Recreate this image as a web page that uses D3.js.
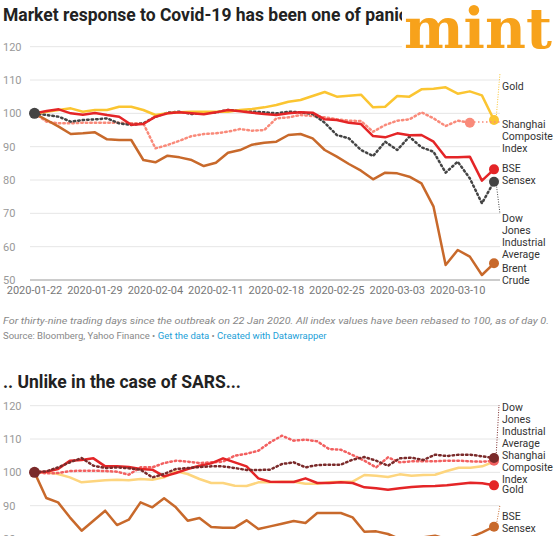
<!DOCTYPE html>
<html><head><meta charset="utf-8">
<script src="https://cdn.jsdelivr.net/npm/d3@7"></script>
<style>body{margin:0;background:#fff;font-family:Roboto,sans-serif}</style></head>
<body><svg id="c" width="556" height="536"></svg>
<script>
const tickLabels1=["2020-01-22","2020-01-29","2020-02-04","2020-02-11","2020-02-18","2020-02-25","2020-03-03","2020-03-10"];
const gold1=[100,100.5,101,101.5,100.5,101,101,102,102,101,99.5,100,100.3,100.5,100.5,100.5,100.5,101,101.3,101.8,102.5,103.5,104,105.2,106.4,105,105.3,105.6,101.8,102,105.2,105,107.2,107.4,107.8,105.9,106.6,105.4,98];
const bse1=[100,100.7,101.2,100,99.6,100.1,99.5,99,96.6,96.8,99,100,100.3,100,99.7,100.3,101,100.6,100.2,99.8,99.5,100,100.3,100.2,98.2,98,97.2,96.8,93.2,92.8,94,93.4,93.5,91.5,86.8,86.8,87,79.8,83.2];
const dow1=[100,99.5,99,97.5,98,98.2,98.5,97,96.5,97,99,100.2,100.5,99.8,100.2,100.3,101,100.8,100.5,100.3,100,100.5,100.3,99.8,97.2,93.5,92.5,89,87.2,91.5,89,93,89.8,88.5,82.2,85.5,80.5,73,79.5];
const shanghai1=[100,97.5,97,97,97.2,97.2,97.2,97.2,97,97,89.5,90.5,91.8,93.2,93.8,94,94.5,95.3,94.8,95,98.5,98.8,99.5,99.2,98.8,98.2,97.8,97.7,94.5,96.5,97.8,98.2,100.3,98.5,96.2,97.8,97.2];
const brent1=[100,98,96,93.8,94,94.3,92.2,92,92,86,85.3,87.3,86.8,86,84.2,85.2,88.2,89,90.6,91.2,91.5,93.5,93.8,92.5,89,87,84.8,82.8,80.2,82.2,82,81,79,72,54.5,59,57,51.5,55];
const brent2=[100,92.3,91,86.5,82.5,85.5,88.5,84.2,85.8,91,89.5,92.2,89.5,85.5,86.3,83.6,83.4,83.4,85.6,83,83.8,84.6,85.4,84.8,87.8,87.8,87.8,86.5,82.2,82.3,81.5,80,79.5,80.5,81,80,79.5,80.5,82,83.7];
const gold2=[100,100,99.5,98.5,97,97.3,97.6,97.8,97.6,98,97.8,98.5,100.3,99.5,98,96.8,96.8,96,95.9,97,97,97.2,97.2,96.6,96.6,97,97.2,97.2,99.2,99,98.6,99.4,99,99.2,99.3,100.4,101.4,101.4,101.8,103.2];
const red2=[100,100.2,101,103.5,103.7,104.2,101.8,101.8,101.6,101,100.8,98.8,99.8,101,102,102.7,104.2,103,101.8,98.2,97.2,97.1,97.1,98.2,96.8,96.8,97,96.8,95.5,95.2,94.8,95.2,95.6,95.8,95.9,96.1,96.5,96.9,96.7,96.1];
const dow2=[100,100.3,101.5,103,104.3,102,101.3,101.5,101.2,100.8,98.5,99.5,101,101.3,101.6,101.8,101.8,101.3,100.7,100.7,100.8,102.5,103,101.5,102.2,102.3,102.3,103.8,104.6,103.5,102,104.2,104.4,103.7,105.3,104.9,105.3,105.3,104.8,104.3];
const shanghai2=[100,99.7,99.8,100.4,100.5,100.5,100.4,100.2,99.3,101.5,101.5,102.8,103.5,103.2,102.8,103,103.2,105,105.6,106.5,109,111,109.5,109.8,109.3,107,106.8,105.2,103.5,101.5,104.5,103,103.3,103.3,103.3,103.5,103.5,103.3,103.2,103.5];
const yTicks1=[50,60,70,80,90,100,110,120];
const yTicks2=[80,90,100,110,120];

const svg=d3.select("#c");
function chart(o){
  const g=svg.append("g");
  const y=d3.scaleLinear().domain([50,120]).range([o.y50,o.y50-233.3]);
  const x=d3.scaleLinear().domain([0,o.n-1]).range([34.5,494]);
  o.yTicks.forEach(t=>{
    g.append("line").attr("x1",30).attr("x2",500).attr("y1",y(t)).attr("y2",y(t)).attr("stroke",t==50?"#999":"#e6e6e6");
    g.append("text").attr("x",3).attr("y",y(t)+4).text(t).attr("font-size",11).attr("fill","#999");
  });
  if(o.xTicks) o.xTicks.forEach((t,i)=>g.append("text").attr("x",x(i*5)).attr("y",y(50)+14).attr("text-anchor","middle").attr("font-size",11).attr("fill","#777").text(t));
  const line=d3.line().x((d,i)=>x(i)).y(d=>y(d));
  o.series.forEach(s=>{
    g.append("path").attr("d",line(s.d)).attr("fill","none").attr("stroke",s.c).attr("stroke-width",2.5)
     .attr("stroke-dasharray",s.dot?"1.5,3":null).attr("stroke-linecap",s.dot?"round":"butt").attr("stroke-linejoin","round");
  });
  o.series.forEach(s=>{
    if(s.conn){g.append("line").attr("x1",x(s.d.length-1)+2).attr("y1",y(s.d[s.d.length-1])).attr("x2",s.conn[0]).attr("y2",s.conn[1]).attr("stroke",s.c).attr("stroke-dasharray","1,1.5").attr("stroke-width",1);}
    if(s.end!==false) g.append("circle").attr("cx",x(s.d.length-1)).attr("cy",y(s.d[s.d.length-1])).attr("r",5).attr("fill",s.c);
    s.label.forEach((l,k)=>g.append("text").attr("x",502).attr("y",s.ly+k*12).attr("font-size",10.5).attr("fill","#333").text(l));
  });
  g.append("circle").attr("cx",x(0)).attr("cy",y(100)).attr("r",5.5).attr("fill",o.startC);
}
svg.append("text").attr("x",3).attr("y",21).attr("font-size",17.5).attr("font-weight",700).attr("fill","#222").text("Market response to Covid-19 has been one of panic");
chart({y50:280,n:39,yTicks:yTicks1,xTicks:tickLabels1,startC:"#444",series:[
 {d:shanghai1,c:"#f98a7a",dot:true,label:["Shanghai","Composite","Index"],ly:128},
 {d:brent1,c:"#c8692b",label:["Brent","Crude"],ly:272},
 {d:dow1,c:"#444",dot:true,label:["Dow","Jones","Industrial","Average"],ly:222,conn:[500,214]},
 {d:gold1,c:"#fbc531",label:["Gold"],ly:90,conn:[500,73]},
 {d:bse1,c:"#e42527",label:["BSE","Sensex"],ly:172}
]});
svg.append("line").attr("x1",470).attr("x2",500).attr("y1",122).attr("y2",122).attr("stroke","#f98a7a").attr("stroke-dasharray","1.5,2.5").attr("stroke-width",1.5);
svg.append("text").attr("x",3).attr("y",324).attr("font-size",9).attr("font-style","italic").attr("fill","#888").attr("textLength",546).attr("lengthAdjust","spacingAndGlyphs").text("For thirty-nine trading days since the outbreak on 22 Jan 2020. All index values have been rebased to 100, as of day 0.");
const src=svg.append("text").attr("x",3).attr("y",339).attr("font-size",9.5).attr("fill","#888");
src.append("tspan").text("Source: Bloomberg, Yahoo Finance • ");
src.append("tspan").attr("fill","#1d9fd8").text("Get the data");
src.append("tspan").text(" • ");
src.append("tspan").attr("fill","#1d9fd8").text("Created with Datawrapper");
svg.append("text").attr("x",3).attr("y",388).attr("font-size",17.5).attr("font-weight",700).attr("fill","#222").text(".. Unlike in the case of SARS...");
chart({y50:639,n:40,yTicks:yTicks2,startC:"#7a2a2a",series:[
 {d:brent2,c:"#c8692b",label:["BSE","Sensex"],ly:520,conn:[500,505]},
 {d:gold2,c:"#fdd57e",label:["Gold"],ly:493,end:false},
 {d:shanghai2,c:"#f26060",dot:true,label:["Shanghai","Composite","Index"],ly:459},
 {d:red2,c:"#e42527",label:[],ly:0},
 {d:dow2,c:"#7a2a2a",dot:true,label:["Dow","Jones","Industrial","Average"],ly:411,conn:[499,405]}
]});
svg.append("rect").attr("x",402).attr("y",0).attr("width",154).attr("height",56).attr("fill","#fff");
svg.append("text").attr("x",404).attr("y",48).attr("font-family","DejaVu Serif, serif").attr("font-weight",700).attr("font-size",56).attr("fill","#f7a21b").attr("textLength",148).attr("lengthAdjust","spacingAndGlyphs").text("mint");
</script></body></html>
